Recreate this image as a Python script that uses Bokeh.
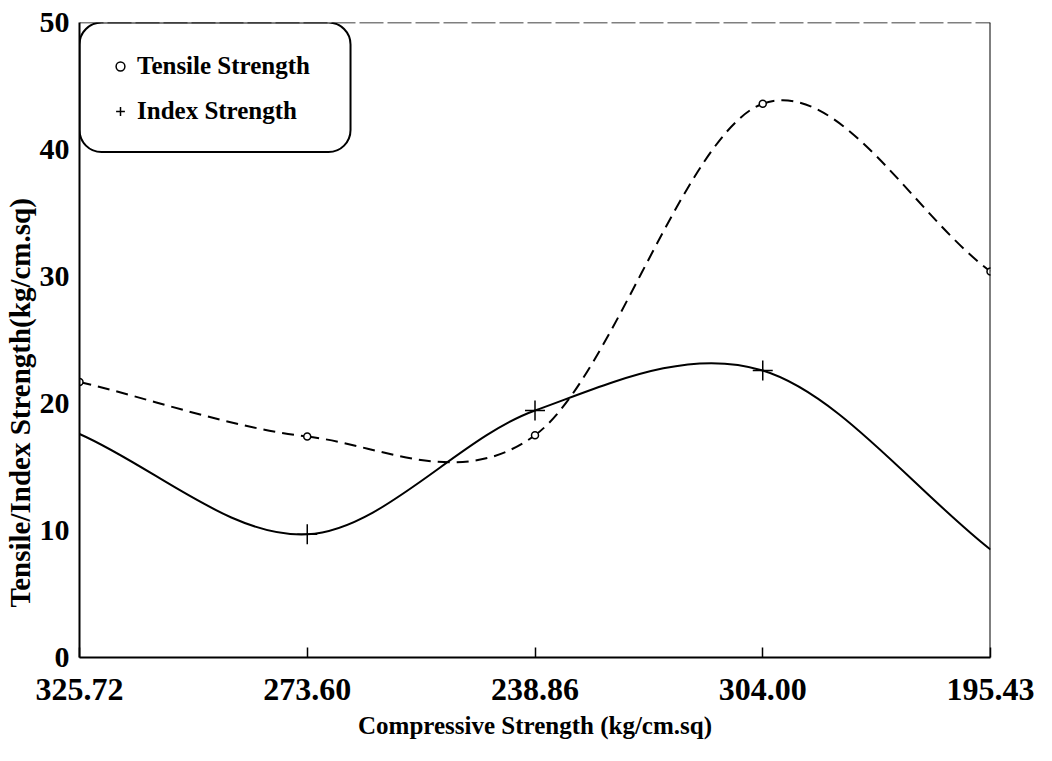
import numpy as np
from bokeh.plotting import figure
from bokeh.models import (Span, BoxAnnotation, Legend, LegendItem, FixedTicker,
                          ColumnDataSource, Range1d, Title)
from bokeh.embed import file_html
from bokeh.resources import INLINE

# ---- data ----
categories = ["325.72", "273.60", "238.86", "304.00", "195.43"]
tensile = [21.7, 17.4, 17.5, 43.6, 30.4]
index_strength = [17.6, 9.7, 19.45, 22.6, 8.5]
y_ticks = [0, 10, 20, 30, 40, 50]

xpos = list(range(len(categories)))

FONT = "Liberation Serif"


def bezier_segments(xs, ys):
    """Smooth (Catmull-Rom style) cubic Bezier segments through the points."""
    xs = np.asarray(xs, float)
    ys = np.asarray(ys, float)
    n = len(xs)
    mx = np.empty(n)
    my = np.empty(n)
    mx[1:-1] = (xs[2:] - xs[:-2]) / 2
    my[1:-1] = (ys[2:] - ys[:-2]) / 2
    mx[0], my[0] = xs[1] - xs[0], ys[1] - ys[0]
    mx[-1], my[-1] = xs[-1] - xs[-2], ys[-1] - ys[-2]
    return dict(x0=xs[:-1], y0=ys[:-1], x1=xs[1:], y1=ys[1:],
                cx0=xs[:-1] + mx[:-1] / 3, cy0=ys[:-1] + my[:-1] / 3,
                cx1=xs[1:] - mx[1:] / 3, cy1=ys[1:] - my[1:] / 3)


p = figure(width=1036, height=745,
           min_border_left=78, min_border_right=46,
           min_border_top=22, min_border_bottom=88,
           x_range=Range1d(0, len(categories) - 1), y_range=Range1d(0, 50),
           output_backend="svg", toolbar_location=None,
           background_fill_color="white", border_fill_color="white")
p.outline_line_color = None
p.grid.visible = False

# legend box (rounded)
p.add_layout(BoxAnnotation(left=0, right=1.19, top=50, bottom=39.8,
                           fill_color="white", fill_alpha=1.0,
                           line_color="black", line_alpha=1.0, line_width=2,
                           border_radius=22, level="underlay"))

# frame: dashed top, solid right
p.add_layout(Span(location=50, dimension="width", line_color="black",
                  line_width=1.5, line_dash="24 4"))
p.add_layout(Span(location=len(categories) - 1, dimension="height",
                  line_color="black", line_width=2))

ts = ColumnDataSource(bezier_segments(xpos, tensile))
isrc = ColumnDataSource(bezier_segments(xpos, index_strength))

p.bezier(x0="x0", y0="y0", x1="x1", y1="y1", cx0="cx0", cy0="cy0",
         cx1="cx1", cy1="cy1", source=ts, line_color="black",
         line_width=2, line_dash="12 7")
p.bezier(x0="x0", y0="y0", x1="x1", y1="y1", cx0="cx0", cy0="cy0",
         cx1="cx1", cy1="cy1", source=isrc, line_color="black",
         line_width=2)

r_t = p.scatter(xpos, tensile, marker="circle", size=7, fill_color="white",
                line_color="black", line_width=1.5)
r_i = p.scatter(xpos[1:-1], index_strength[1:-1], marker="cross", size=20,
                line_color="black", line_width=1.5)

legend = Legend(items=[LegendItem(label="Tensile Strength", renderers=[r_t]),
                       LegendItem(label="Index Strength", renderers=[r_i])],
                location="top_left", margin=0, padding=30, spacing=17,
                glyph_width=22, glyph_height=28, label_height=28,
                label_standoff=6,
                label_text_font=FONT, label_text_font_style="bold",
                label_text_font_size="25px", label_text_color="black",
                border_line_alpha=0, background_fill_alpha=0)
p.add_layout(legend)

# x axis
xa = p.xaxis[0]
xa.ticker = FixedTicker(ticks=xpos)
xa.major_label_overrides = {i: c for i, c in zip(xpos, categories)}
xa.major_tick_in = 10
xa.major_tick_out = 0
xa.minor_tick_line_color = None
xa.axis_line_width = 2
xa.major_tick_line_width = 1.5
xa.major_label_text_font = FONT
xa.major_label_text_font_style = "bold"
xa.major_label_text_font_size = "32px"
xa.major_label_text_color = "black"
xa.major_label_standoff = 21

# y axis
ya = p.yaxis[0]
ya.ticker = FixedTicker(ticks=y_ticks)
ya.major_tick_in = 0
ya.major_tick_out = 0
ya.minor_tick_line_color = None
ya.axis_line_width = 2
ya.major_label_text_font = FONT
ya.major_label_text_font_style = "bold"
ya.major_label_text_font_size = "30px"
ya.major_label_text_color = "black"
ya.major_label_standoff = 10

# axis titles
p.add_layout(Title(text="Compressive Strength (kg/cm.sq)", align="center",
                   text_font=FONT, text_font_style="bold",
                   text_font_size="25px", text_color="black", standoff=14),
             "below")
p.add_layout(Title(text="Tensile/Index Strength(kg/cm.sq)", align="left",
                   offset=50, text_font=FONT, text_font_style="bold",
                   text_font_size="29px", text_color="black", standoff=2),
             "left")

open("out.html", "w").write(file_html(p, INLINE))
